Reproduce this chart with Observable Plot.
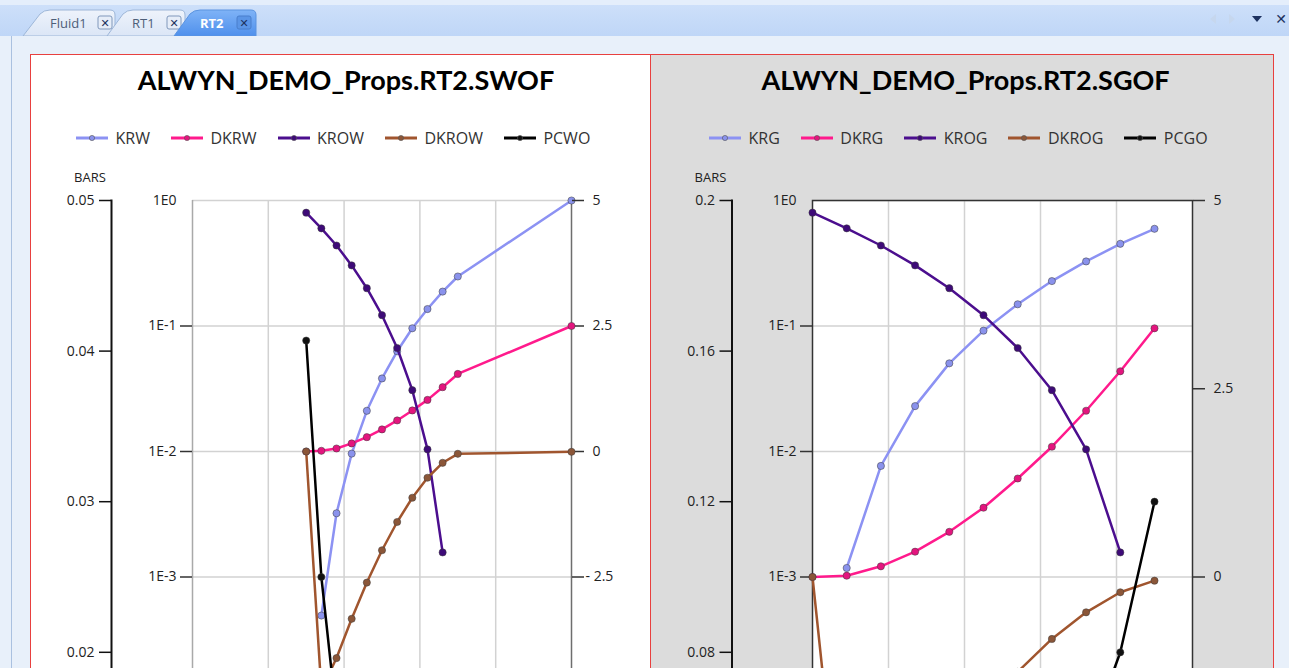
<!DOCTYPE html>
<html>
<head>
<meta charset="utf-8">
<script src="https://cdn.jsdelivr.net/npm/d3@7"></script>
<script src="https://cdn.jsdelivr.net/npm/@observablehq/plot@0.6"></script>
<style>
  html, body { margin:0; padding:0; width:1289px; height:668px; overflow:hidden; background:#e8f0fa; font-family:"Open Sans", sans-serif; }
  #tabs { position:absolute; left:0; top:0; }
  #content-edge { position:absolute; left:11px; top:35px; width:1289px; height:700px; border-left:1px solid #aac1e0; border-top:1px solid #a9c3e8; background:#e8f0fa; }
  .panel { position:absolute; top:54px; height:1000px; box-sizing:border-box; border:1.5px solid #e8403f; }
  .chart { position:absolute; top:0; height:1000px; }
  .chart svg { position:absolute; left:0; top:0; max-width:none; }
  .title { position:absolute; top:63px; height:34px; line-height:34px; text-align:center; font-family:Lato, sans-serif; font-weight:bold; font-size:27px; color:#000; white-space:nowrap; }
  .legend { position:absolute; top:128px; height:20px; display:flex; align-items:center; font-size:16px; color:#333; white-space:nowrap; }
  .legend .item { display:flex; align-items:center; margin-right:21px; }
  .legend svg { margin-right:7.5px; }
  .bars { position:absolute; top:168px; width:40px; text-align:center; font-size:13px; color:#222; }
</style>
</head>
<body>
<div id="content-edge"></div>
<svg id="tabs" width="1289" height="36" xmlns="http://www.w3.org/2000/svg">
  <defs>
    <linearGradient id="bar" x1="0" y1="0" x2="0" y2="1">
      <stop offset="0" stop-color="#cfe1fa"/><stop offset="1" stop-color="#bfd6f7"/>
    </linearGradient>
    <linearGradient id="act" x1="0" y1="0" x2="0" y2="1">
      <stop offset="0" stop-color="#7fb3f7"/><stop offset="1" stop-color="#4f90ec"/>
    </linearGradient>
    <linearGradient id="inact" x1="0" y1="0" x2="0" y2="1">
      <stop offset="0" stop-color="#eef3fb"/><stop offset="1" stop-color="#dbe6f6"/>
    </linearGradient>
  </defs>
  <rect x="0" y="0" width="1289" height="36" fill="url(#bar)"/>
  <rect x="0" y="0" width="1289" height="5" fill="#e4eefb"/>
  <path d="M23,36 L40,14 Q44,10 50,10 L110,10 Q115,10 115,15 L115,36 Z" fill="url(#inact)" stroke="#9db6d8"/>
  <text x="50" y="28" font-size="13" fill="#4d5e78" font-family="Open Sans">Fluid1</text>
  <rect x="98" y="16" width="14" height="13" rx="2" fill="#e6edf8" stroke="#8098bb"/>
  <text x="105" y="26.5" font-size="11" font-weight="bold" fill="#1d3260" text-anchor="middle" font-family="DejaVu Sans">✕</text>
  <path d="M107,36 L123,14 Q127,10 133,10 L180,10 Q185,10 185,15 L185,36 Z" fill="url(#inact)" stroke="#9db6d8"/>
  <text x="132" y="28" font-size="13" fill="#4d5e78" font-family="Open Sans">RT1</text>
  <rect x="167" y="16" width="14" height="13" rx="2" fill="#e6edf8" stroke="#8098bb"/>
  <text x="174" y="26.5" font-size="11" font-weight="bold" fill="#1d3260" text-anchor="middle" font-family="DejaVu Sans">✕</text>
  <path d="M174,36 L190,14 Q194,10 200,10 L251,10 Q256,10 256,15 L256,36 Z" fill="url(#act)" stroke="#5a93e0"/>
  <text x="200" y="28" font-size="13" font-weight="bold" fill="#ffffff" font-family="Open Sans">RT2</text>
  <rect x="237" y="16" width="14" height="13" rx="2" fill="#5b95e6" stroke="#4a7fcc"/>
  <text x="244" y="26.5" font-size="11" font-weight="bold" fill="#1d3260" text-anchor="middle" font-family="DejaVu Sans">✕</text>
  <path d="M1216,14 L1210,19 L1216,24 Z" fill="#c6d7ee"/>
  <path d="M1229,14 L1235,19 L1229,24 Z" fill="#c6d7ee"/>
  <path d="M1252,16 L1262,16 L1257,22 Z" fill="#1d3260"/>
  <text x="1281" y="24" font-size="14" font-weight="bold" fill="#1d3260" text-anchor="middle" font-family="DejaVu Sans">✕</text>
</svg>

<div class="panel" style="left:30px;width:621px;background:#ffffff;"></div>
<div class="panel" style="left:650px;width:624px;background:#dcdcdc;"></div>

<script>
// ---------------- DATA ----------------
// SWOF table (water saturation)
const SW    = [0.30, 0.34, 0.38, 0.42, 0.46, 0.50, 0.54, 0.58, 0.62, 0.66, 0.70, 1.00];
const KRW   = [null, 0.000493, 0.00322, 0.00962, 0.0211, 0.0382, 0.0629, 0.0959, 0.1365, 0.188, 0.248, 1.0];
const DKRW  = [0, 0.014, 0.06, 0.161, 0.286, 0.44, 0.619, 0.818, 1.028, 1.281, 1.545, 2.5];
const KROW  = [0.8, 0.6, 0.438, 0.304, 0.2, 0.122, 0.0668, 0.0308, 0.0104, 0.00157, null, null];
const DKROW = [0, -4.75, -4.115, -3.333, -2.611, -1.967, -1.404, -0.921, -0.523, -0.225, -0.046, -0.006];
const PCWO  = [0.0407, 0.025, 0.0157, 0.0105, 0.0072, 0.005, 0.0035, 0.0024, 0.0015, 0.0008, 0.0003, 0];

// SGOF table (gas saturation)
const SG    = [0, 0.09, 0.18, 0.27, 0.36, 0.45, 0.54, 0.63, 0.72, 0.81, 0.90];
const KRG   = [null, 0.00118, 0.00767, 0.0230, 0.0504, 0.0918, 0.149, 0.228, 0.327, 0.452, 0.595];
const DKRG  = [0, 0.017, 0.142, 0.336, 0.600, 0.920, 1.308, 1.730, 2.208, 2.732, 3.303];
const KROG  = [0.8, 0.6, 0.438, 0.304, 0.2, 0.122, 0.0668, 0.0308, 0.0104, 0.00157, null];
const DKROG = [0, -4.3, -3.7, -3.0, -2.35, -1.77, -1.26, -0.823, -0.469, -0.203, -0.049];
const PCGO  = [0, 0.002, 0.005, 0.009, 0.014, 0.02, 0.028, 0.038, 0.055, 0.08, 0.12];

const SWOF_NAMES = ["KRW", "DKRW", "KROW", "DKROW", "PCWO"];
const SGOF_NAMES = ["KRG", "DKRG", "KROG", "DKROG", "PCGO"];
const TITLES = ["ALWYN_DEMO_Props.RT2.SWOF", "ALWYN_DEMO_Props.RT2.SGOF"];

const LOG_GRID = [1, 1e-1, 1e-2, 1e-3, 1e-4, 1e-5, 1e-6];
const LOG_LABELS = [1, 1e-1, 1e-2, 1e-3];
const X_GRID = [0.2, 0.4, 0.6, 0.8];
const SWOF_DER_POS = [5, 2.5, 0], SWOF_DER_NEG = [-2.5];
const SGOF_DER_POS = [5, 2.5, 0], SGOF_DER_NEG = [];
const SWOF_BARS = [0.05, 0.04, 0.03, 0.02];
const SGOF_BARS = [0.2, 0.16, 0.12, 0.08];

// ---------------- STYLE / LAYOUT ----------------
const COLORS = [
  {line: "#8c92f3", dot: "#8a92ec"},
  {line: "#ff1a8c", dot: "#e3157e"},
  {line: "#4b0e8e", dot: "#3e0a78"},
  {line: "#a0552e", dot: "#8b5638"},
  {line: "#000000", dot: "#111111"}
];
const H = 1000, TOP = 200, BOTTOM = 953;
const FONT = "'Open Sans', sans-serif";

const rows = (xs, ys) => xs.map((x, i) => ({x, y: ys[i]})).filter(d => d.y != null);
function series(xs, ys, c) {
  const d = rows(xs, ys);
  return [
    Plot.line(d, {x: "x", y: "y", stroke: c.line, strokeWidth: 2.5}),
    Plot.dot(d, {x: "x", y: "y", r: 3.6, fill: c.dot, stroke: "#3a3a3a", strokeOpacity: 0.5, strokeWidth: 1})
  ];
}
function layer(P, y, marks, ml) {
  return Plot.plot({
    width: P.w, height: H,
    marginTop: TOP, marginBottom: H - BOTTOM,
    marginLeft: ml ?? (P.plotL - P.left), marginRight: P.left + P.w - P.plotR,
    x: {domain: [0, 1], range: [P.plotL - P.left, P.plotR - P.left], axis: null},
    y: {...y, axis: null, label: null},
    style: {background: "transparent", overflow: "visible", fontFamily: FONT, fontSize: "14px", color: "#222"},
    marks
  });
}
const logFmt = d => "1E" + Math.round(Math.log10(d));
const barsFmt = d => d === 0 ? "0" : String(+d.toFixed(3));

function buildPanel(P, xs, cols, names, title, derPos, derNeg, derDomain, barsTicks, barsDomain) {
  const chart = document.createElement("div");
  chart.className = "chart";
  chart.style.left = P.left + "px";
  chart.style.width = P.w + "px";
  document.body.appendChild(chart);

  const logY = {type: "log", domain: [1e-6, 1]};
  const derY = {type: "linear", domain: derDomain};
  const barY = {type: "linear", domain: barsDomain};
  const axisStroke = {stroke: "#333", strokeWidth: 1.5, label: null};

  const base = [];
  if (P.boxed) base.push(Plot.frame({fill: "white", stroke: "none"}));
  base.push(
    Plot.gridX(X_GRID, {stroke: "#d2d2d2", strokeOpacity: 1, strokeWidth: 1.5}),
    Plot.gridY(LOG_GRID, {stroke: "#d2d2d2", strokeOpacity: 1, strokeWidth: 1.5})
  );
  if (P.boxed) {
    base.push(Plot.frame({stroke: "#333", strokeWidth: 1.5}));
  } else {
    base.push(Plot.gridX([0], {stroke: "#a9a9a9", strokeOpacity: 1, strokeWidth: 1.5}));
    base.push(Plot.gridX([1], {stroke: "#6e6e6e", strokeOpacity: 1, strokeWidth: 1.5}));
  }
  base.push(
    Plot.axisY(LOG_LABELS.slice(1), {anchor: "left", tickSize: 12, fill: "none", ...axisStroke}),
    Plot.axisY(LOG_LABELS, {anchor: "left", tickSize: 0, tickPadding: 16, tickFormat: logFmt, fill: "#222", label: null}),
    ...series(xs, cols[0], COLORS[0])
  );

  const derMarks = [
    Plot.axisY(derPos, {anchor: "right", tickSize: 12, tickPadding: 9, tickFormat: d => String(d), fill: "#222", ...axisStroke})
  ];
  if (derNeg.length) derMarks.push(
    Plot.axisY(derNeg, {anchor: "right", tickSize: 12, tickPadding: 2, tickFormat: d => "- " + (-d), fill: "#222", ...axisStroke})
  );

  const layers = [
    layer(P, logY, base),
    layer(P, derY, [...derMarks, ...series(xs, cols[1], COLORS[1])]),
    layer(P, logY, series(xs, cols[2], COLORS[2])),
    layer(P, derY, series(xs, cols[3], COLORS[3])),
    layer(P, barY, [
      Plot.frame({anchor: "left", stroke: "#111", strokeWidth: 2}),
      Plot.axisY(barsTicks, {anchor: "left", tickSize: 12, tickPadding: 5, tickFormat: barsFmt, fill: "#222", stroke: "#111", strokeWidth: 1.5, label: null}),
      ...series(xs, cols[4], COLORS[4])
    ], P.barsX - P.left)
  ];
  layers.forEach(s => chart.appendChild(s));

  const t = document.createElement("div");
  t.className = "title";
  t.style.left = (P.left + P.titleDx) + "px";
  t.style.width = P.w + "px";
  t.textContent = title;
  document.body.appendChild(t);

  const lg = document.createElement("div");
  lg.className = "legend";
  lg.style.left = P.legendX + "px";
  names.forEach((n, i) => {
    const it = document.createElement("div");
    it.className = "item";
    it.innerHTML = `<svg width="32" height="10"><line x1="0" x2="32" y1="5" y2="5" stroke="${COLORS[i].line}" stroke-width="3"/><circle cx="16" cy="5" r="2.6" fill="${COLORS[i].dot}" stroke="#555" stroke-opacity="0.6"/></svg><span>${n}</span>`;
    lg.appendChild(it);
  });
  document.body.appendChild(lg);

  const b = document.createElement("div");
  b.className = "bars";
  b.style.left = (P.barsX - 41) + "px";
  b.textContent = "BARS";
  document.body.appendChild(b);
}

const LEFT  = {left: 30,  w: 620, plotL: 192, plotR: 571,  barsX: 111,   boxed: false, titleDx: 6, legendX: 76};
const RIGHT = {left: 650, w: 623, plotL: 812, plotR: 1192, barsX: 731.5, boxed: true,  titleDx: 4, legendX: 709};

buildPanel(LEFT, SW, [KRW, DKRW, KROW, DKROW, PCWO], SWOF_NAMES, TITLES[0],
  SWOF_DER_POS, SWOF_DER_NEG, [-10, 5], SWOF_BARS, [0, 0.05]);
buildPanel(RIGHT, SG, [KRG, DKRG, KROG, DKROG, PCGO], SGOF_NAMES, TITLES[1],
  SGOF_DER_POS, SGOF_DER_NEG, [-5, 5], SGOF_BARS, [0, 0.2]);
</script>
</body>
</html>
